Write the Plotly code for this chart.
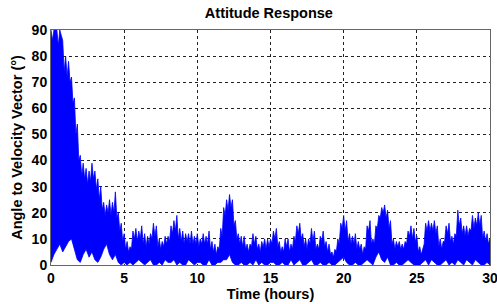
import plotly.graph_objects as go

# Sample times (hours), every 0.2 h, and the in-between times for the dips
time_h = [round(i * 0.2, 1) for i in range(151)]
time_mid = [round(0.1 + i * 0.2, 1) for i in range(150)]

# Upper envelope peaks of the oscillating attitude angle (deg)
angle_hi = [90,
            90, 90, 90, 86, 80,
            78, 72, 64, 54, 42,
            39, 37, 36, 39, 36,
            33, 30, 24, 23, 25,
            24, 28, 20, 16, 12,
            9, 7, 13, 14, 13,
            15, 12, 11, 12, 16,
            15, 10, 9, 11, 11,
            15, 17, 19, 14, 13,
            12, 12, 13, 11, 12,
            10, 12, 11, 13, 9,
            8, 7, 14, 22, 25,
            27, 25, 17, 12, 11,
            11, 8, 8, 12, 11,
            8, 9, 10, 10, 10,
            13, 14, 9, 7, 10,
            10, 8, 11, 15, 16,
            12, 10, 10, 14, 13,
            8, 11, 13, 9, 8,
            5, 6, 10, 16, 19,
            17, 12, 11, 12, 9,
            8, 7, 15, 17, 10,
            15, 19, 22, 23, 21,
            17, 10, 9, 9, 8,
            9, 13, 15, 14, 11,
            7, 6, 16, 17, 16,
            17, 15, 10, 9, 15,
            16, 11, 12, 21, 18,
            15, 15, 14, 19, 18,
            20, 19, 13, 12, 10]

# Dips of the upper edge between the peaks (deg), at time_mid
angle_mid = [86, 90, 84, 88, 74,
             72, 70, 62, 50, 40,
             34, 33, 31, 32, 33,
             29, 25, 21, 19, 20,
             19, 20, 18, 13, 9,
             6, 5, 6, 10, 9,
             10, 8, 7, 8, 10,
             11, 7, 6, 7, 8,
             9, 12, 13, 10, 9,
             8, 9, 8, 8, 8,
             7, 8, 8, 8, 6,
             5, 4, 6, 11, 19,
             21, 22, 15, 10, 8,
             7, 6, 5, 7, 8,
             6, 5, 7, 6, 7,
             8, 10, 7, 5, 5,
             7, 5, 6, 9, 12,
             10, 7, 6, 8, 9,
             6, 6, 9, 7, 5,
             4, 3, 5, 8, 14,
             13, 9, 8, 8, 6,
             6, 4, 6, 13, 8,
             8, 14, 18, 20, 18,
             14, 8, 6, 7, 6,
             6, 8, 11, 10, 9,
             5, 4, 8, 13, 13,
             13, 12, 7, 6, 9,
             12, 9, 8, 11, 15,
             12, 11, 11, 13, 14,
             15, 15, 10, 9, 8]

# Lower envelope (deg), at time_h
angle_lo = [1,
            4, 6, 8, 5, 7,
            9, 10, 6, 2, 1,
            4, 6, 3, 5, 2,
            1, 3, 6, 8, 4,
            2, 4, 1, 0, 1,
            0, 1, 0, 1, 2,
            1, 0, 1, 2, 0,
            0, 1, 0, 2, 1,
            1, 2, 0, 1, 0,
            0, 2, 1, 0, 1,
            1, 0, 0, 2, 0,
            0, 1, 1, 2, 2,
            4, 1, 0, 0, 1,
            0, 0, 1, 0, 2,
            0, 1, 0, 0, 1,
            1, 0, 0, 1, 0,
            0, 2, 0, 1, 2,
            0, 0, 1, 2, 0,
            0, 1, 0, 0, 1,
            0, 0, 1, 2, 3,
            1, 0, 0, 1, 0,
            0, 1, 2, 1, 0,
            3, 5, 2, 1, 3,
            0, 0, 1, 0, 0,
            1, 2, 1, 0, 0,
            0, 1, 2, 0, 2,
            1, 0, 0, 1, 2,
            0, 1, 0, 2, 1,
            0, 2, 1, 0, 2,
            1, 0, 0, 1, 0]

x_ticks = [0, 5, 10, 15, 20, 25, 30]
y_ticks = [0, 10, 20, 30, 40, 50, 60, 70, 80, 90]

BLUE = "#0000FF"

# upper edge: peaks interleaved with dips
upper_x, upper_y = [], []
for i in range(len(time_h)):
    upper_x.append(time_h[i]); upper_y.append(angle_hi[i])
    if i < len(time_mid):
        upper_x.append(time_mid[i]); upper_y.append(angle_mid[i])

fig = go.Figure()
fig.add_trace(go.Scatter(
    x=upper_x + time_h[::-1],
    y=upper_y + angle_lo[::-1],
    mode="lines", fill="toself", fillcolor=BLUE,
    line=dict(color=BLUE, width=0.8),
    hoverinfo="skip", showlegend=False))

font_family = "Liberation Sans, Arial, sans-serif"
fig.update_layout(
    width=497, height=304,
    margin=dict(l=51, r=7, t=30, b=39, autoexpand=False),
    paper_bgcolor="white", plot_bgcolor="white",
    font=dict(family=font_family, size=14, color="black"),
    title=dict(text="Attitude Response", x=0.541, xanchor="center",
               y=0.958, yanchor="middle",
               font=dict(family=font_family, size=14.5, color="black", weight="bold")),
    showlegend=False,
)
fig.update_xaxes(
    range=[0, 30], tickvals=x_ticks, ticktext=[str(v) for v in x_ticks],
    showgrid=True, gridcolor="#222222", griddash="dot", gridwidth=1,
    showline=True, linecolor="#666666", linewidth=1, mirror=True,
    zeroline=False, ticks="", ticklabeloverflow="allow",
    tickfont=dict(family=font_family, size=14, color="black", weight="bold"),
    title=dict(text="Time (hours)", standoff=3,
               font=dict(family=font_family, size=14.5, color="black", weight="bold")),
)
fig.update_yaxes(
    range=[0, 90], tickvals=y_ticks, ticktext=[str(v) for v in y_ticks],
    showgrid=True, gridcolor="#222222", griddash="dot", gridwidth=1,
    showline=True, linecolor="#666666", linewidth=1, mirror=True,
    zeroline=False, ticks="",
    tickfont=dict(family=font_family, size=14, color="black", weight="bold"),
    title=dict(text="Angle to Velocity Vector (°)", standoff=5,
               font=dict(family=font_family, size=14.5, color="black", weight="bold")),
)

fig.write_html("out.html", config={"displayModeBar": False},
               post_script="document.body.style.margin='0';")
